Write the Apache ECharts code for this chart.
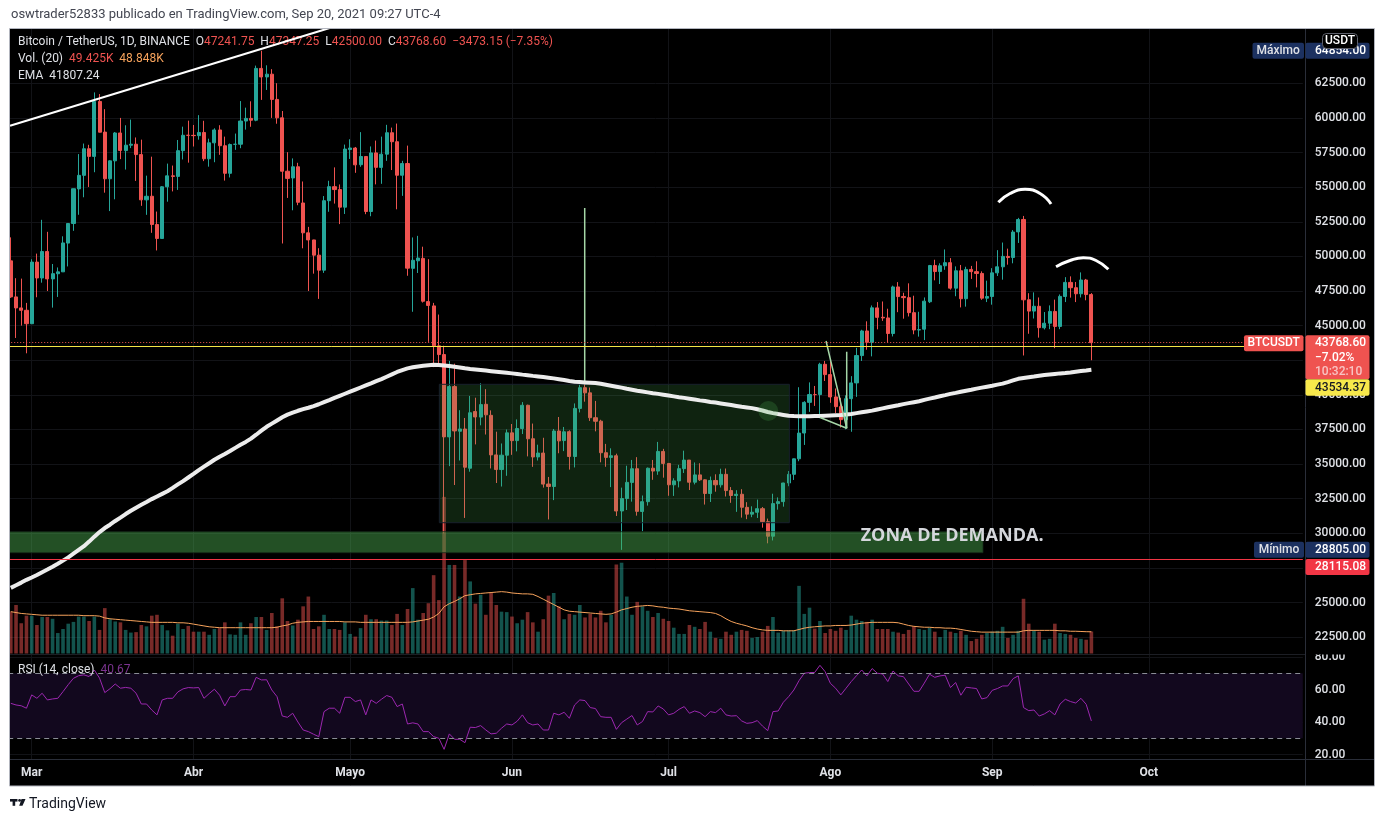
<!DOCTYPE html>
<html>
<head>
<meta charset="utf-8">
<script src="https://cdn.jsdelivr.net/npm/echarts@6/dist/echarts.min.js"></script>
<style>
html,body{margin:0;padding:0;background:#fff;overflow:hidden;}
#c{width:1385px;height:822px;}
</style>
</head>
<body>
<div id="c"></div>
<script>
// ================= DATA =================
const startDate = Date.UTC(2021, 1, 25);   // first daily candle
const dayCount = 248;                       // visible day slots (incl. empty future)

// daily candles [open, high, low, close], Feb 25 -> Sep 20 2021
const ohlc = [
[49676.2,51374.0,47000.0,47073.7],[47073.7,48424.1,44106.8,46276.9],[46276.9,48394.0,45000.0,46106.4],[46106.4,46640.3,43000.0,45135.7],
[45135.7,49790.0,45115.1,49587.0],[49587.0,50200.0,47047.6,48440.7],[48440.7,52640.4,48100.7,50349.4],[50349.4,51773.9,47500.0,48374.1],
[48374.1,49448.9,46300.0,48751.7],[48746.8,49200.0,47070.0,48882.2],[48882.2,51450.0,48882.2,50971.8],[50959.1,52402.8,49274.7,52375.2],
[52375.2,54895.0,51845.0,54884.5],[54874.7,57387.7,53005.0,55851.6],[55851.6,58150.0,54269.0,57773.2],[57773.2,58058.1,55013.6,57221.7],
[57221.7,61844.0,56078.2,61188.4],[61188.4,61724.8,59020.0,58968.3],[58976.1,60633.4,54600.0,55605.2],[55605.2,56938.3,53271.3,56900.8],
[56900.8,58981.4,54123.7,58912.9],[58912.9,60000.0,57023.0,57648.2],[57641.0,59468.0,56270.7,58030.0],[58030.0,59880.0,57820.2,58102.3],
[58100.0,58589.1,55450.1,57351.6],[57351.6,58430.7,53650.0,54083.3],[54083.3,55830.9,53000.0,54340.9],[54342.8,57200.0,51700.0,52303.7],
[52303.7,53237.9,50427.6,51293.8],[51293.8,55073.5,51279.2,55025.6],[55025.6,56700.4,53950.0,55817.1],[55817.1,56559.7,54691.6,55777.6],
[55777.6,58405.8,54800.0,57635.5],[57635.5,59368.0,57000.0,58746.6],[58746.6,59800.0,56769.0,58740.6],
[58739.5,59490.0,57935.5,58720.4],[58720.4,60200.0,58428.6,58950.0],[58950.0,59791.7,56880.0,57051.9],[57051.9,58500.0,56478.1,58202.0],
[58202.0,59251.0,56800.0,59129.9],[59130.0,59474.9,57333.3,57991.2],[57990.0,58650.0,55473.0,56000.0],[56000.0,58152.9,55700.0,58080.0],
[58090.0,58869.7,57695.0,58102.6],[58101.1,61217.0,57813.0,59774.0],[59774.0,60740.0,59155.2,59964.8],[59964.8,61199.0,59360.0,59834.7],
[59834.7,63777.8,59760.0,63576.0],[63575.0,64854.0,61301.0,62959.5],[62959.5,63800.0,62020.0,63159.9],[63158.7,63520.6,60000.0,61334.8],
[61334.8,62506.1,59580.9,60006.7],[60006.7,60499.0,50931.3,56150.0],[56150.0,57526.8,54221.6,55633.1],[55663.2,57076.2,53329.0,56473.0],
[56471.1,56757.9,53695.0,53906.9],[53857.1,55410.2,50583.2,51701.0],[51701.6,52130.6,47500.0,51187.3],[51187.3,51200.0,48753.4,50089.2],
[50089.2,50591.4,46930.0,49004.0],[49004.1,54356.6,48807.0,54021.5],[54021.5,55460.0,53222.0,55033.6],[55033.6,56428.0,53813.2,54824.8],
[54824.8,55195.8,52330.9,53555.0],[53555.0,58075.0,53063.0,57750.2],
[57714.7,58459.0,57037.7,57828.5],[57825.0,57902.6,56035.2,56610.5],[56620.3,58973.3,56470.0,57213.3],[57214.2,57214.2,53046.7,53241.7],
[53241.7,57939.4,52900.0,57473.2],[57473.2,58363.3,55200.0,56428.2],[56427.4,58650.0,55241.6,57380.7],[57380.7,59500.0,56900.0,58928.8],
[58929.0,59300.5,56235.7,58280.7],[58280.7,59592.2,53400.0,55859.8],[55859.8,56900.0,54370.0,56704.6],[56704.6,58000.0,48600.0,49150.0],
[49138.0,51367.2,46000.0,49716.0],[49682.0,51483.0,48799.8,49880.4],[49855.5,50700.0,46664.0,46760.6],[46736.6,49800.0,43825.0,46456.7],
[46424.0,46643.1,42001.0,43537.5],[43538.0,45799.3,42250.0,42909.4],[42909.4,43546.1,30000.0,36964.3],[36964.3,42451.7,34850.0,40596.6],
[40596.6,42250.0,33488.0,37395.3],[37371.4,38889.8,35257.5,37536.2],[37531.1,38329.3,31111.0,34770.8],[34700.3,39920.0,34450.2,38705.9],
[38795.7,39791.8,36419.6,38402.2],[38392.6,40841.0,37800.4,39294.2],[39316.9,40411.1,37134.3,38556.8],[38519.9,38877.8,34684.0,35663.5],
[35661.8,37338.6,33632.8,34605.2],[34605.2,36488.0,33379.0,35641.3],[35641.3,37499.0,34153.8,37253.8],
[37253.8,37894.8,35666.0,36693.1],[36694.9,38225.0,35920.0,37568.7],[37568.7,39476.0,37170.0,39246.8],[39246.8,39289.1,35555.2,36829.0],
[36829.2,37925.6,34800.0,35513.2],[35516.1,36400.0,35258.0,35796.3],[35796.3,36900.0,33300.0,33552.8],[33556.9,34069.0,31000.0,33380.8],
[33380.8,37534.8,32396.8,37388.1],[37388.0,38400.0,35782.0,36675.7],[36697.0,37680.4,35936.8,37331.9],[37340.1,37436.8,34600.4,35546.1],
[35546.1,39380.0,34757.0,39020.6],[39020.6,41064.1,38730.0,40516.3],[40516.3,41330.0,39506.4,40144.0],[40143.8,40527.1,38116.0,38349.0],
[38349.0,39560.0,37365.0,38092.9],[38098.0,38200.0,35129.3,35819.8],[35820.5,36457.0,34803.5,35483.7],[35483.7,36138.0,33336.0,35600.2],
[35600.2,35750.0,31251.2,31608.9],[31614.1,33298.8,28805.0,32509.6],[32509.6,34881.0,31683.0,33678.1],[33675.1,35298.0,32286.6,34663.1],
[34663.1,35500.0,31275.0,31584.5],[31576.1,32730.0,30151.0,32283.7],[32283.7,34749.0,32000.0,34700.3],[34702.5,35297.7,33862.7,34494.9],
[34494.9,36600.0,34225.4,35911.7],[35911.7,36100.0,34017.5,35045.0],
[35045.0,35057.6,32711.0,33504.7],[33502.3,33977.0,32699.0,33786.6],[33786.6,34945.6,33316.7,34669.1],[34669.1,35967.9,34357.1,35286.5],
[35288.1,35293.8,33125.5,33690.1],[33690.1,35118.9,33532.0,34220.0],[34220.0,35059.1,33777.8,33862.1],[33862.1,33900.0,32077.0,32875.7],
[32875.9,34100.0,32261.1,33815.8],[33815.8,34262.0,33004.8,33502.9],[33502.9,34666.0,33306.5,34258.1],[34259.0,34678.4,32658.3,33086.6],
[33086.9,33340.0,32202.2,32729.8],[32729.1,33114.0,31550.0,32820.0],[32820.0,33185.3,31133.0,31880.0],[31874.5,32249.2,31020.0,31383.9],
[31383.8,31949.6,31164.3,31520.7],[31520.6,32435.0,31108.0,31778.6],[31778.6,31899.0,30407.4,30839.7],[30839.6,31063.1,29278.0,29790.4],
[29790.3,32858.0,29482.6,32144.5],[32144.5,32591.4,31708.0,32287.8],[32287.6,33650.0,31924.3,33634.1],[33634.1,34500.0,33401.1,34258.1],
[34261.5,35398.0,33851.1,35381.0],[35381.0,40550.0,35205.8,37237.6],[37241.3,39542.6,36383.0,39457.9],[39456.6,40900.0,38772.0,40019.6],
[40019.6,40640.0,39200.0,40016.5],[40018.9,42316.7,38313.2,42206.4],[42206.4,42448.0,41000.2,41461.8],
[41461.8,42599.0,39422.0,39845.4],[39850.3,40459.7,38690.0,39147.8],[39146.9,39780.0,37642.0,38207.0],[38207.0,39969.7,37508.6,39723.2],
[39723.2,41350.0,37332.7,40862.5],[40862.5,43392.4,39853.9,42836.9],[42836.9,44700.0,42446.4,44614.2],[44614.2,45310.0,43261.0,43792.8],
[43794.4,46454.0,42779.0,46284.0],[46280.0,46700.0,44730.0,45595.7],[45601.8,46743.5,45341.3,45555.0],[45555.0,46218.1,43770.0,44428.2],
[44428.2,47886.0,44217.4,47793.3],[47793.3,48144.0,45971.0,47096.9],[47096.9,47372.3,45500.0,47019.6],[47019.6,48053.8,45660.0,45936.5],
[45936.5,47160.0,44376.0,44686.0],[44686.2,46000.0,44203.3,44709.1],[44741.9,47033.0,43955.0,46765.9],[46723.1,49382.9,46629.0,49339.2],
[49339.2,49757.0,48270.0,48905.5],[48905.5,49500.0,48003.7,49321.4],[49321.4,50500.0,49029.0,49546.1],[49546.2,49876.0,47600.0,47706.1],
[47706.0,49277.0,47122.0,48960.8],[48960.8,49380.0,46315.5,46942.2],[46942.2,49250.0,46370.0,49058.7],[49058.7,49309.8,48371.3,48897.1],
[48897.1,49645.0,47762.5,48767.8],[48767.8,48918.6,46862.5,46982.9],[46982.9,48246.1,46700.0,47100.9],
[47100.9,49149.9,46512.0,48810.5],[48810.5,50450.1,48584.1,49246.6],[49246.6,51000.0,48316.8,49999.1],[49998.0,50558.8,49400.6,49915.6],
[49917.5,51900.0,49500.0,51756.8],[51769.0,52780.0,50969.3,52663.9],[52666.2,52920.0,42843.1,46863.7],[46868.6,47340.0,44412.0,46048.3],
[46048.3,47399.9,45513.1,46395.1],[46395.1,47033.0,44132.3,44850.9],[44842.2,45980.0,44722.2,45173.7],[45173.7,46460.0,44742.0,46025.2],
[46025.2,46876.4,43370.0,44940.7],[44940.7,47250.0,44742.0,47111.5],[47103.3,48500.0,46700.0,48121.4],[48121.4,48557.0,47021.1,47737.8],
[47737.8,48150.0,46699.6,47299.9],[47299.9,48843.2,47033.0,48292.7],[48292.7,48372.8,46829.2,47241.75],[47241.75,47347.25,42500.0,43768.6]
];

// volume in thousands of BTC
const volK = [
94,109,68,85,
85,64,82,82,78,46,55,67,71,83,83,73,83,53,102,77,72,70,53,47,48,64,61,85,87,64,52,40,67,55,62,
49,49,49,42,55,57,70,43,42,70,42,68,82,82,53,91,61,124,73,63,76,106,128,55,61,87,55,55,53,70,
44,38,57,87,77,77,74,74,64,89,64,100,147,76,91,113,176,120,352,199,199,128,210,162,112,132,87,136,109,94,93,
83,68,76,93,70,49,77,130,136,106,77,89,87,109,81,89,81,96,70,87,200,204,128,87,116,106,96,82,91,78,
73,58,44,44,64,60,55,71,49,35,33,49,42,49,53,51,35,37,49,62,82,47,51,52,52,152,89,103,56,73,46,
55,51,58,53,85,76,73,71,76,55,55,55,49,47,44,53,61,55,53,58,49,37,53,49,46,51,42,28,33,42,46,
49,51,60,35,42,51,123,67,51,49,31,33,67,46,44,42,35,33,31,49.425
];

// volume moving average (20), thousands
const volMaK = [
94,92,90,89,88,87,86,
86,86,86,86,86,86,86,85,85,85,84,
80,78,77,
76,75,74,73,72,71,70,
70,70,70,70,69,69,68,
66,64,62,60,59,58,
58,58,58,58,58,58,58,58,58,58,59,
62,64,
68,70,71,72,72,
72,72,72,72,72,71,71,71,70,
70,70,70,70,70,70,70,70,70,
71,73,75,77,
82,90,105,
112,117,123,130,
132,134,135,136,
137,138,139,138,136,
135,134,134,133,
128,122,116,
110,104,98,95,
94,93,92,91,90,
89,88,89,
93,98,101,104,106,
107,108,107,105,
104,102,101,100,98,
96,95,94,93,92,
90,85,78,72,
68,65,62,58,55,53,
52,52,52,51,51,51,
54,57,59,60,
61,62,62,63,63,63,
64,66,68,69,70,70,70,70,
70,69,66,63,
61,60,59,59,58,58,57,57,
56,54,52,50,49,48,
48,48,48,48,48,48,48,
51,52,52,52,52,52,
52,51,51,50,50,49.5,49,48.848
];

// EMA line
const emaLine = [
26060,26250,26440,26640,26810,26990,27190,27380,27580,27800,
28030,28260,28530,28800,29070,29400,29760,30090,30380,30620,
30890,31130,31390,31630,31850,32060,32260,32470,32660,32850,
33040,33280,33530,33770,34030,34290,34560,34810,35060,35310,
35530,35730,35940,36170,36390,36600,36840,37120,37410,37690,
37920,38150,38380,38570,38720,38850,38970,39070,39190,39320,
39470,39620,39780,39930,40080,40230,40380,40530,40680,40830,
40990,41140,41310,41480,41650,41790,41910,41990,42050,42100,
42140,42170,42160,42120,42080,42030,41980,41920,41870,41830,
41790,41750,41710,41670,41630,41590,41550,41510,41460,41420,
41370,41330,41290,41240,41190,41130,41070,41000,40940,40920,
40900,40880,40860,40800,40730,40660,40590,40520,40440,40370,
40300,40240,40180,40120,40070,40010,39950,39890,39830,39780,
39720,39660,39600,39550,39490,39440,39380,39320,39260,39200,
39140,39090,39040,38960,38870,38760,38680,38610,38550,38490,
38470,38460,38460,38460,38470,38470,38490,38510,38530,38550,
38580,38620,38680,38740,38800,38860,38940,39020,39100,39180,
39250,39330,39400,39470,39540,39640,39730,39810,39900,39980,
40070,40140,40220,40300,40370,40450,40520,40590,40660,40740,
40810,40920,41040,41160,41220,41270,41320,41380,41430,41470,
41510,41550,41580,41620,41670,41720,41760,41807.24
];

// RSI (14, close)
const rsiLine = [
51.5,50.5,50,48.5,
56.7,54.6,57.7,53.6,54.2,54.6,58.7,63,66.9,68.5,69,68,72,67,58.1,60.5,63.4,60.8,61.3,60.8,57.7,51.1,51.1,47.4,44.4,53.6,54.6,54.6,58.5,60.4,61.2,
61,61.2,54.6,57.5,60.2,56.5,49.9,55.6,55.6,59.7,60,59.7,67.5,65.9,66,59.7,55.6,43.7,42.9,45.4,40,35.1,34.1,32.5,31,46.4,48.5,48.5,45.4,55.2,
55.2,52.6,53.6,44.4,53.6,51.5,54,56.3,55.2,49.5,51.1,38.8,39.5,38.8,34.1,34.1,31,30,23.2,32.7,29.4,29.4,27.3,36.8,36.6,37.8,35.1,32.7,33.1,36.2,38.8,
38.2,40.5,44.4,39.6,38.2,38.8,35.1,35.1,45.4,44.4,46,42.3,50.5,53.6,53.2,48.9,48.3,43.3,42.9,42.9,35.5,39.6,41.8,44,38.2,40.3,46.4,46.2,49.9,48,
44.4,45.4,47.8,49.5,45.4,46.8,45.8,43.3,46.4,45.8,48.5,44.4,43.7,43.9,40.7,39.2,39.6,40.9,37.5,34.7,46.4,46.8,52.2,55.6,59.7,65.5,70,70.4,70.5,74.9,71,
63.8,60.8,56.7,60.8,64.9,68.5,72,68.4,72.9,70,69.6,64.9,71.4,68.4,67.9,63.4,58.9,58.9,64,69.4,67.5,68.4,68.8,61.2,64.3,56.5,61.4,61,60.6,54.2,55,
59.5,60.6,62.2,62.2,66.7,68.4,48.9,47,47.4,43.7,45,47,44.4,51.1,54,52.6,51.7,54.6,50.9,40.67
];

const priceTicks = [22500,25000,27500,30000,32500,35000,37500,40000,42500,45000,47500,50000,52500,55000,57500,60000,62500];
const rsiTicks = [20,40,60,80];
const rsiBands = [30,70];
const monthNames = ['Ene','Feb','Mar','Abr','Mayo','Jun','Jul','Ago','Sep','Oct','Nov','Dic'];
const yellowLevel = 43534.37;
const redLevel = 28115.08;

// drawings in [day index, price]
const trendLine = [[-0.15,59438],[65,66942]];
const arcA = [[189.18,53906],[191.42,54541],[194.29,54844],[197.17,54541],[199.27,53783]];
const arcB = [[200.23,49254],[202.91,49702],[205.46,49904],[207.89,49702],[210.25,49067]];
const flagLines = [[156.17,43889],[160.13,37584],[155.02,38364]];
const flagPole = [[160.13,43116],[160.13,37584]];
const spikeLine = [[109.94,53494],[109.94,40761]];
const rangeBox = [[82.09,40761],[149.14,30765]];
const demandZone = [[-0.5,30115],[186.24,28599]];
const circleMark = [[145.11,38833]];
const zoneLabelPos = [162.8,29806];

// ================= CHART =================
const dates = [];
for (let k = 0; k < dayCount; k++) dates.push(new Date(startDate + k * 86400000).toISOString().slice(0, 10));
const monthStarts = dates.filter(d => d.slice(8) === '01');

const FONT = 'Roboto, "Liberation Sans", Arial, sans-serif';
const upC = '#26a69a', dnC = '#ef5350';
const TXT = '#dfe1e6';
const L = 8.2, CW = 1294.6, N = dates.length;

const last = ohlc[ohlc.length - 1], prev = ohlc[ohlc.length - 2];
const maxHigh = Math.max(...ohlc.map(r => r[1]));
const minLow = Math.min(...ohlc.map(r => r[2]));

const chart = echarts.init(document.getElementById('c'));

const hLines = (vals, color, type, z) => ({
  silent: true, symbol: ['none', 'none'], label: { show: false }, animation: false, z: z,
  lineStyle: { color: color, width: 1, type: type || 'solid' },
  data: vals.map(v => ({ yAxis: v }))
});

chart.setOption({
  animation: false,
  backgroundColor: '#ffffff',
  grid: [
    { left: L, width: CW, top: 14.07, height: 657.7 },
    { left: L, width: CW, top: 475.5, height: 178 },
    { left: L, width: CW, top: 624.5, height: 162.55 },
    { left: L, width: CW, top: 28.5, height: 730.5 }
  ],
  xAxis: [
    { type: 'category', gridIndex: 0, data: dates, show: false },
    { type: 'value', gridIndex: 0, min: -0.5, max: N - 0.5, show: false },
    { type: 'category', gridIndex: 1, data: dates, show: false },
    { type: 'category', gridIndex: 2, data: dates, show: false },
    { type: 'category', gridIndex: 3, data: dates,
      axisLine: { show: false }, axisTick: { show: false }, splitLine: { show: false },
      axisLabel: { interval: (i, v) => v.slice(8) === '01', formatter: v => monthNames[+v.slice(5, 7) - 1],
        color: TXT, fontSize: 12, fontWeight: 'bold', fontFamily: FONT, margin: 8 } }
  ],
  yAxis: [
    { type: 'value', gridIndex: 0, min: 20000, max: 67500, interval: 2500, position: 'right',
      axisLine: { show: false }, axisTick: { show: false }, splitLine: { show: false },
      axisLabel: { margin: 12, color: TXT, fontSize: 12, fontWeight: 500, fontFamily: FONT,
        formatter: v => priceTicks.indexOf(v) >= 0 ? v.toFixed(2) : '' } },
    { type: 'value', gridIndex: 1, min: 0, max: 400, show: false },
    { type: 'value', gridIndex: 2, min: 0, max: 100, interval: 20, position: 'right',
      axisLine: { show: false }, axisTick: { show: false }, splitLine: { show: false },
      axisLabel: { margin: 12, color: TXT, fontSize: 12, fontWeight: 500, fontFamily: FONT,
        formatter: v => rsiTicks.indexOf(v) >= 0 ? v.toFixed(2) : '' } },
    { type: 'value', gridIndex: 3, min: 0, max: 1, show: false }
  ],
  series: [
    { name: 'pgrid', type: 'line', xAxisIndex: 0, yAxisIndex: 0, data: [], z: 1, silent: true,
      markLine: hLines(priceTicks, '#121317', 'solid', 0) },
    { name: 'tgrid', type: 'line', xAxisIndex: 4, yAxisIndex: 3, data: [], z: 1, silent: true,
      markLine: { silent: true, symbol: ['none', 'none'], label: { show: false }, z: 0,
        lineStyle: { color: '#121317', width: 1, type: 'solid' },
        data: monthStarts.map(d => ({ xAxis: d })) } },
    { name: 'Vol', type: 'bar', xAxisIndex: 2, yAxisIndex: 1, barWidth: 3.6, z: 2, silent: true,
      data: volK.map((v, i) => ({ value: v, itemStyle: { color: ohlc[i][3] >= ohlc[i][0] ? 'rgba(38,166,154,0.5)' : 'rgba(239,83,80,0.5)' } })) },
    { name: 'VolMA', type: 'line', xAxisIndex: 2, yAxisIndex: 1, data: volMaK, showSymbol: false, z: 2, silent: true,
      lineStyle: { color: '#f7a35c', width: 1 } },
    { name: 'BTCUSDT', type: 'candlestick', xAxisIndex: 0, yAxisIndex: 0, barWidth: 3.6, z: 2, silent: true,
      data: ohlc.map(r => [r[0], r[3], r[2], r[1]]),
      itemStyle: { color: upC, color0: dnC, borderColor: upC, borderColor0: dnC, borderWidth: 1 },
      markLine: { silent: true, symbol: ['none', 'none'], label: { show: false }, z: 6,
        data: [
          { yAxis: last[3], lineStyle: { color: dnC, width: 1, type: [1, 2] } },
          { yAxis: yellowLevel, lineStyle: { color: '#f5e447', width: 1, type: 'solid' } },
          { yAxis: redLevel, lineStyle: { color: '#f23645', width: 1, type: 'solid' } }
        ] } },
    { name: 'spike', type: 'line', xAxisIndex: 1, yAxisIndex: 0, data: spikeLine, z: 3, silent: true,
      showSymbol: false, lineStyle: { color: '#a5d6a7', width: 1.5 },
      markArea: { silent: true, z: 3,
        data: [
          [{ xAxis: rangeBox[0][0], yAxis: rangeBox[0][1], itemStyle: { color: 'rgba(76,175,80,0.2)', borderColor: '#18202c', borderWidth: 1 } },
           { xAxis: rangeBox[1][0], yAxis: rangeBox[1][1] }],
          [{ xAxis: demandZone[0][0], yAxis: demandZone[0][1], itemStyle: { color: 'rgba(76,175,80,0.46)', borderColor: 'rgba(20,40,24,0.8)', borderWidth: 1 } },
           { xAxis: demandZone[1][0], yAxis: demandZone[1][1] }]
        ] } },
    { name: 'EMA', type: 'line', xAxisIndex: 0, yAxisIndex: 0, data: emaLine, showSymbol: false, z: 4, silent: true,
      lineStyle: { color: '#ececec', width: 4 } },
    { name: 'circle', type: 'scatter', xAxisIndex: 1, yAxisIndex: 0, data: circleMark, symbolSize: 20, z: 5, silent: true,
      itemStyle: { color: 'rgba(76,175,80,0.28)' } },
    { name: 'trend', type: 'line', xAxisIndex: 1, yAxisIndex: 0, data: trendLine, showSymbol: false, z: 5, silent: true,
      lineStyle: { color: '#ffffff', width: 2 } },
    { name: 'arcA', type: 'line', xAxisIndex: 1, yAxisIndex: 0, data: arcA, smooth: true, showSymbol: false, z: 5, silent: true,
      lineStyle: { color: '#ffffff', width: 3 } },
    { name: 'arcB', type: 'line', xAxisIndex: 1, yAxisIndex: 0, data: arcB, smooth: true, showSymbol: false, z: 5, silent: true,
      lineStyle: { color: '#ffffff', width: 3 } },
    { name: 'flag', type: 'line', xAxisIndex: 1, yAxisIndex: 0, data: flagLines, showSymbol: false, z: 5, silent: true,
      lineStyle: { color: '#a5d6a7', width: 1.5 } },
    { name: 'pole', type: 'line', xAxisIndex: 1, yAxisIndex: 0, data: flagPole, showSymbol: false, z: 5, silent: true,
      lineStyle: { color: '#a5d6a7', width: 1.5 } },
    { name: 'RSI', type: 'line', xAxisIndex: 3, yAxisIndex: 2, data: rsiLine, showSymbol: false, z: 3, silent: true,
      lineStyle: { color: '#9c27b0', width: 1 },
      markArea: { silent: true, z: 1, itemStyle: { color: '#12081e' }, data: [[{ yAxis: rsiBands[0] }, { yAxis: rsiBands[1] }]] },
      markLine: hLines(rsiBands, '#8a8d96', [5, 4], 4) },
    { name: 'rgrid', type: 'line', xAxisIndex: 3, yAxisIndex: 2, data: [], z: 1, silent: true,
      markLine: hLines(rsiTicks, '#121317', 'solid', 0) }
  ]
});

// ================= TEXT / LABELS =================
const yp = v => chart.convertToPixel({ yAxisIndex: 0 }, v);
const xyp = (i, v) => chart.convertToPixel({ xAxisIndex: 1, yAxisIndex: 0 }, [i, v]);
const f2 = v => (v < 0 ? '\u2212' : '') + Math.abs(v).toFixed(2);
const g = [];
const txt = (x, y, text, fill, font, align, z) => g.push({ type: 'text', z: z || 1,
  style: { x: x, y: y, text: text, fill: fill, font: font, textAlign: align || 'left', textVerticalAlign: 'middle' } });
const rect = (x, y, w, h, fill, z, r, stroke) => g.push({ type: 'rect', z: z,
  shape: { x: x, y: y, width: w, height: h, r: r || 0 }, style: { fill: fill, stroke: stroke || null, lineWidth: 1 } });
const line = (x1, y1, x2, y2, color, z) => g.push({ type: 'line', z: z,
  shape: { x1: x1, y1: y1, x2: x2, y2: y2 }, style: { stroke: color, lineWidth: 1 } });

// chart frame
rect(9.5, 28.5, 1365, 757.5, '#000000', -10);
// covers outside the frame
rect(0, 0, 1385, 28.5, '#ffffff', 100);
rect(0, 0, 9.5, 822, '#ffffff', 100);
rect(1374.5, 0, 11, 822, '#ffffff', 100);
rect(0, 786, 1385, 36, '#ffffff', 100);
g.push({ type: 'rect', z: 101, shape: { x: 9.5, y: 28.5, width: 1365, height: 757.5 }, style: { fill: null, stroke: '#b2b5be', lineWidth: 1 } });
// pane separators
rect(1306, 644.5, 68, 10, '#000000', 50);
line(10, 654.5, 1305, 654.5, '#1c1e24', 51);
line(1305.5, 29, 1305.5, 786, '#2a2e39', 51);
line(10, 759.5, 1374, 759.5, '#2a2e39', 51);

// header outside chart
txt(11, 15, 'oswtrader52833 publicado en TradingView.com, Sep 20, 2021 09:27 UTC-4', '#434651', '13px ' + FONT, 'left', 102);

// legend
const chg = last[3] - prev[3];
g.push({ type: 'text', z: 1, style: {
  x: 18, y: 42, textVerticalAlign: 'middle', textAlign: 'left', font: '12px ' + FONT,
  text: '{w|Bitcoin / TetherUS, 1D, BINANCE  O}{r|' + last[0].toFixed(2) + '}{w|  H}{r|' + last[1].toFixed(2) +
        '}{w|  L}{r|' + last[2].toFixed(2) + '}{w|  C}{r|' + last[3].toFixed(2) + '}{r|  ' + f2(chg) + ' (' + f2(chg / prev[3] * 100) + '%)}',
  rich: { w: { fill: TXT, font: '12px ' + FONT }, r: { fill: dnC, font: '12px ' + FONT } } } });
g.push({ type: 'text', z: 1, style: {
  x: 18, y: 59, textVerticalAlign: 'middle', textAlign: 'left', font: '12px ' + FONT,
  text: '{w|Vol. (20)}  {r|' + volK[volK.length - 1].toFixed(3) + 'K}  {o|' + volMaK[volMaK.length - 1].toFixed(3) + 'K}',
  rich: { w: { fill: TXT, font: '12px ' + FONT }, r: { fill: dnC, font: '12px ' + FONT }, o: { fill: '#f7a35c', font: '12px ' + FONT } } } });
txt(18, 76, 'EMA  ' + emaLine[emaLine.length - 1].toFixed(2), TXT, '12px ' + FONT, 'left', 1);
// RSI legend
g.push({ type: 'text', z: 52, style: {
  x: 18, y: 670, textVerticalAlign: 'middle', textAlign: 'left', font: '12px ' + FONT,
  text: '{w|RSI (14, close)}  {p|' + rsiLine[rsiLine.length - 1].toFixed(2) + '}',
  rich: { w: { fill: TXT, font: '12px ' + FONT }, p: { fill: '#7b3390', font: '12px ' + FONT } } } });

// zone caption
const zp = xyp(zoneLabelPos[0], zoneLabelPos[1]);
txt(zp[0], zp[1], 'ZONA DE DEMANDA.', '#d5d7dc', 'bold 18px "Open Sans", ' + FONT, 'left', 20);

// price-scale labels
const F12 = '500 12px ' + FONT;
const yMax = yp(maxHigh);
rect(1252.5, yMax - 8, 51.5, 16, '#1c3160', 60, 2);
txt(1278.2, yMax, 'Máximo', TXT, F12, 'center', 61);
rect(1305.5, yMax - 8, 64, 16, '#1c3160', 60, 2);
txt(1315, yMax, maxHigh.toFixed(2), '#ffffff', F12, 'left', 61);
rect(1322.5, 33.5, 35, 15, '#000000', 62, 4, '#5d606b');
txt(1340, 41, 'USDT', '#ffffff', F12, 'center', 63);

const yCur = yp(last[3]);
rect(1244, yCur - 7.5, 59.5, 16, dnC, 60, 2);
txt(1273.7, yCur + 0.5, 'BTCUSDT', '#ffffff', F12, 'center', 61);
rect(1305.5, yCur - 7.5, 64, 44, dnC, 60, 2);
txt(1315, yCur + 0.5, last[3].toFixed(2), '#ffffff', F12, 'left', 61);
txt(1315, yCur + 15.5, '\u22127.02%', '#ffffff', F12, 'left', 61);
txt(1315, yCur + 29, '10:32:10', '#f8c4c3', F12, 'left', 61);
rect(1305.5, yCur + 36.5, 64, 16.5, '#f7e84b', 60, 2);
txt(1315, yCur + 45, yellowLevel.toFixed(2), '#131722', F12, 'left', 61);

const yMin = yp(minLow);
rect(1254, yMin - 8, 50, 16, '#1c3160', 60, 2);
txt(1279, yMin, 'Mínimo', TXT, F12, 'center', 61);
rect(1305.5, yMin - 8, 64, 16, '#1c3160', 60, 2);
txt(1315, yMin, minLow.toFixed(2), '#ffffff', F12, 'left', 61);
const yRed = Math.max(yp(redLevel), yMin + 9);
rect(1305.5, yRed - 0.5, 64, 16, '#f23645', 60, 2);
txt(1315, yRed + 7.5, redLevel.toFixed(2), '#ffffff', F12, 'left', 61);

// TradingView mark
rect(10, 799, 7.5, 2.6, '#131722', 102);
rect(12.6, 799, 2.6, 6.8, '#131722', 102);
g.push({ type: 'circle', z: 102, shape: { cx: 19.6, cy: 800.4, r: 1.4 }, style: { fill: '#131722' } });
g.push({ type: 'polygon', z: 102, shape: { points: [[21.5, 799], [25.5, 799], [22.5, 805.8], [19.2, 805.8]] }, style: { fill: '#131722' } });
txt(29, 804, 'TradingView', '#131722', '14px ' + FONT, 'left', 102);

chart.setOption({ graphic: g });
</script>
</body>
</html>
